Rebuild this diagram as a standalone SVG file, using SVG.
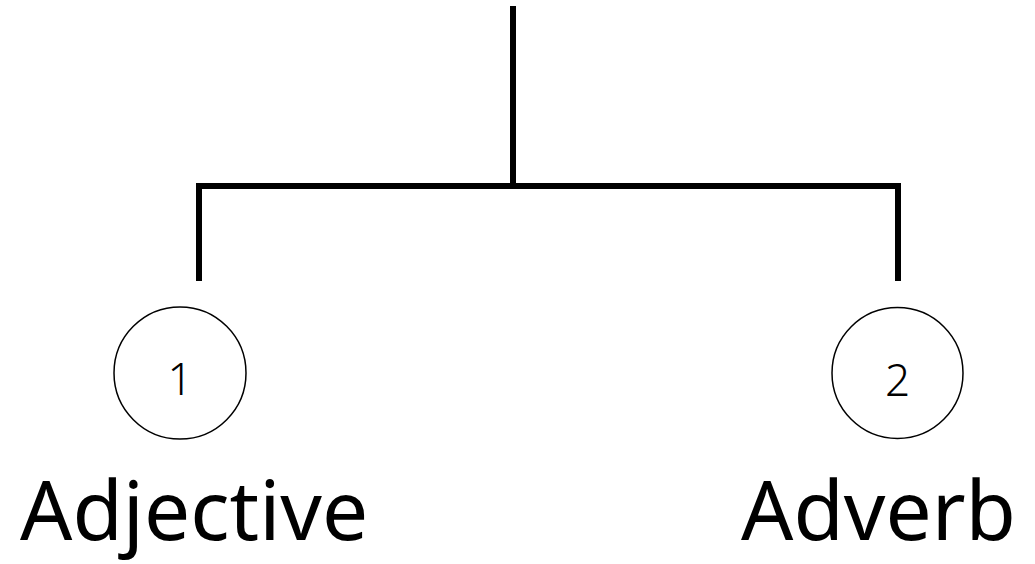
<svg xmlns="http://www.w3.org/2000/svg" width="1035" height="564" viewBox="0 0 1035 564">
<style>
.conn{stroke:#000;stroke-width:6;fill:none}
.node{fill:#fff;stroke:#000;stroke-width:1.5}
.num{font-family:"Noto Sans",sans-serif;font-size:44px;font-weight:300;fill:#000;text-anchor:middle}
.label{font-family:"Noto Sans",sans-serif;font-size:82px;fill:#000}
</style>
<rect width="1035" height="564" fill="#fff"/>
<g id="connectors">
<line class="conn" x1="513" y1="6" x2="513" y2="186"/>
<polyline class="conn" points="199,281 199,186 898,186 898,281"/>
</g>
<g id="node1">
<circle class="node" cx="180" cy="373" r="66"/>
<text class="num" x="180" y="395">1</text>
</g>
<g id="node2">
<circle class="node" cx="897.5" cy="373" r="65.5"/>
<text class="num" x="897.5" y="396">2</text>
</g>
<g id="label1">
<text class="label" x="20" y="540">Adjective</text>
</g>
<g id="label2">
<text class="label" x="741" y="540">Adverb</text>
</g>
</svg>
